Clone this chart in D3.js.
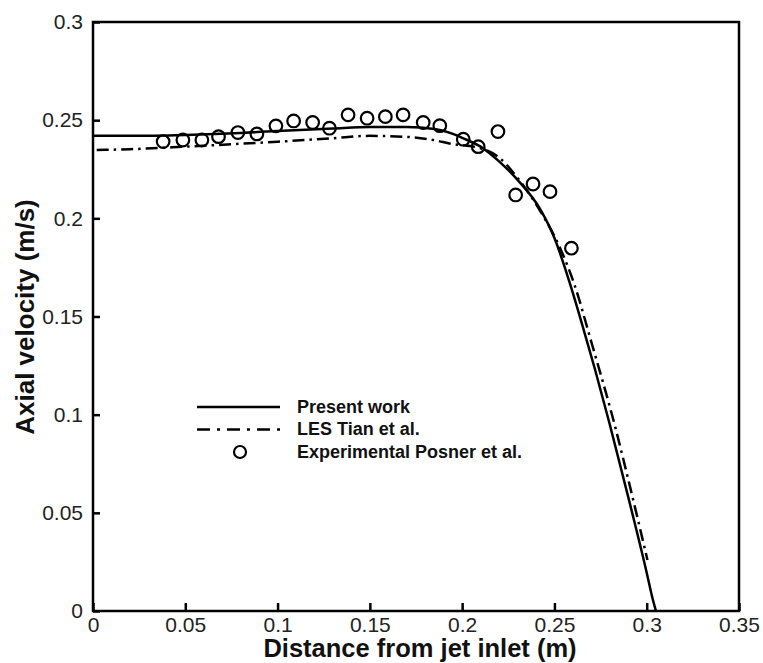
<!DOCTYPE html>
<html>
<head>
<meta charset="utf-8">
<script src="https://cdn.jsdelivr.net/npm/d3@7"></script>
<style>
  body { margin: 0; background: #fff; }
  svg { display: block; font-family: "Liberation Sans", Arial, sans-serif; }
</style>
</head>
<body>
<svg id="chart"></svg>
<script>
// Present work (solid line)
const presentX = [0, 0.02, 0.05, 0.08, 0.1, 0.13, 0.15, 0.17, 0.185, 0.195, 0.2, 0.21, 0.22, 0.23, 0.2425, 0.25, 0.258, 0.265, 0.272, 0.28, 0.29, 0.3, 0.303, 0.305];
const presentY = [0.242, 0.242, 0.2425, 0.2435, 0.2445, 0.2458, 0.2465, 0.2465, 0.2455, 0.243, 0.241, 0.2365, 0.229, 0.2196, 0.2043, 0.190, 0.168, 0.146, 0.123, 0.095, 0.058, 0.0195, 0.007, 0];

// LES Tian et al. (dash-dot line)
const lesX = [0.002, 0.02, 0.05, 0.08, 0.1, 0.13, 0.15, 0.17, 0.185, 0.1937, 0.21, 0.22, 0.228, 0.2425, 0.253, 0.2606, 0.27, 0.283, 0.29, 0.3004];
const lesY = [0.2348, 0.2352, 0.2365, 0.238, 0.239, 0.2408, 0.242, 0.2415, 0.2398, 0.238, 0.2357, 0.231, 0.223, 0.2034, 0.185, 0.1669, 0.137, 0.0935, 0.067, 0.026];

// Experimental Posner et al. (circles)
const expX = [0.038, 0.0487, 0.059, 0.068, 0.0785, 0.0888, 0.0991, 0.1087, 0.119, 0.1281, 0.1382, 0.1485, 0.1584, 0.168, 0.1789, 0.1879, 0.2006, 0.2087, 0.2194, 0.229, 0.2384, 0.2476, 0.2592];
const expY = [0.2391, 0.2399, 0.2399, 0.2416, 0.2437, 0.243, 0.2471, 0.2496, 0.2488, 0.2459, 0.2527, 0.251, 0.2518, 0.2527, 0.2488, 0.2472, 0.2403, 0.2365, 0.2442, 0.2119, 0.2175, 0.2136, 0.1848];

const xTicks = [0, 0.05, 0.1, 0.15, 0.2, 0.25, 0.3, 0.35];
const yTicks = [0, 0.05, 0.1, 0.15, 0.2, 0.25, 0.3];

const legendLabels = ["Present work", "LES Tian et al.", "Experimental Posner et al."];

const width = 763;
const height = 663;
const margin = { top: 22, right: 24, bottom: 52, left: 93 };

const svg = d3.select("#chart").attr("width", width).attr("height", height);

const x = d3.scaleLinear().domain([0, 0.35]).range([margin.left, width - margin.right]);
const y = d3.scaleLinear().domain([0, 0.3]).range([height - margin.bottom, margin.top]);

const fmt = (d) => (d === 0 ? "0" : String(+d.toFixed(2)));

// x axis (ticks inward)
const xAxis = svg.append("g")
  .attr("transform", `translate(0,${y(0)})`)
  .call(d3.axisBottom(x).tickValues(xTicks).tickFormat(fmt).tickSizeInner(-8).tickSizeOuter(0).tickPadding(6));
xAxis.select(".domain").remove();
xAxis.selectAll(".tick line").attr("stroke", "#000").attr("stroke-width", 2.5);
xAxis.selectAll(".tick text").attr("font-size", 21).attr("fill", "#222").attr("font-family", "Liberation Sans, Arial, sans-serif");

// y axis (ticks inward)
const yAxis = svg.append("g")
  .attr("transform", `translate(${x(0)},0)`)
  .call(d3.axisLeft(y).tickValues(yTicks).tickFormat(fmt).tickSizeInner(-7).tickSizeOuter(0).tickPadding(10));
yAxis.select(".domain").remove();
yAxis.selectAll(".tick line").attr("stroke", "#000").attr("stroke-width", 2.5);
yAxis.selectAll(".tick text").attr("font-size", 21).attr("fill", "#222").attr("font-family", "Liberation Sans, Arial, sans-serif");

// frame
svg.append("rect")
  .attr("x", x(0)).attr("y", y(0.3))
  .attr("width", x(0.35) - x(0)).attr("height", y(0) - y(0.3))
  .attr("fill", "none").attr("stroke", "#000").attr("stroke-width", 2.5);

const line = d3.line().x((d) => x(d[0])).y((d) => y(d[1])).curve(d3.curveMonotoneX);

svg.append("path")
  .datum(d3.zip(lesX, lesY))
  .attr("d", line)
  .attr("fill", "none").attr("stroke", "#000").attr("stroke-width", 2.5)
  .attr("stroke-dasharray", "12,5,2.5,5");

svg.append("path")
  .datum(d3.zip(presentX, presentY))
  .attr("d", line)
  .attr("fill", "none").attr("stroke", "#000").attr("stroke-width", 2.5);

svg.append("g")
  .selectAll("circle")
  .data(d3.zip(expX, expY))
  .join("circle")
  .attr("cx", (d) => x(d[0]))
  .attr("cy", (d) => y(d[1]))
  .attr("r", 6.3)
  .attr("fill", "none").attr("stroke", "#000").attr("stroke-width", 2.2);

// legend
const lg = svg.append("g");
lg.append("line").attr("x1", 197).attr("x2", 280).attr("y1", 407).attr("y2", 407)
  .attr("stroke", "#000").attr("stroke-width", 2.5);
lg.append("line").attr("x1", 197).attr("x2", 283).attr("y1", 429.5).attr("y2", 429.5)
  .attr("stroke", "#000").attr("stroke-width", 2.5).attr("stroke-dasharray", "13,7,3,7");
lg.append("circle").attr("cx", 240).attr("cy", 452).attr("r", 6)
  .attr("fill", "none").attr("stroke", "#000").attr("stroke-width", 2.2);
lg.selectAll("text")
  .data(legendLabels)
  .join("text")
  .attr("x", 297)
  .attr("y", (d, i) => 412.5 + i * 22.5)
  .attr("font-size", 18).attr("font-weight", "bold").attr("fill", "#111")
  .text((d) => d);

// axis titles
svg.append("text")
  .attr("x", 420).attr("y", 657)
  .attr("text-anchor", "middle")
  .attr("font-size", 25.5).attr("font-weight", "bold").attr("fill", "#111")
  .text("Distance from jet inlet (m)");

svg.append("text")
  .attr("transform", "translate(34,317) rotate(-90)")
  .attr("text-anchor", "middle")
  .attr("font-size", 26).attr("font-weight", "bold").attr("fill", "#111")
  .text("Axial velocity (m/s)");
</script>
</body>
</html>
